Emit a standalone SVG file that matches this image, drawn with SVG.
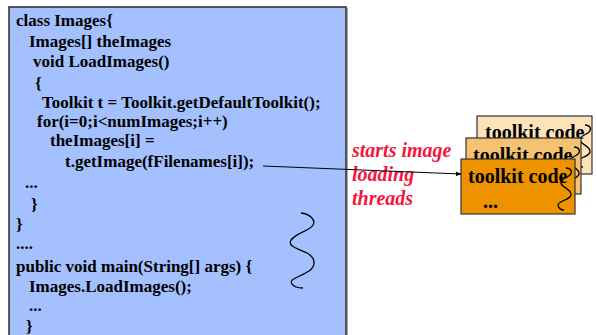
<svg xmlns="http://www.w3.org/2000/svg" xmlns:xlink="http://www.w3.org/1999/xlink" width="597" height="335" viewBox="0 0 597 335">
  <style>
    .code { font-family: "Liberation Serif", "Times New Roman", serif; font-weight: bold; font-size: 17px; fill: #000; }
    .tk { font-family: "Liberation Serif", "Times New Roman", serif; font-weight: bold; font-size: 20px; fill: #000; }
    .note { font-family: "Liberation Serif", "Times New Roman", serif; font-weight: bold; font-style: italic; font-size: 20px; fill: #F5153E; }
    .squig { fill: none; stroke: #000; stroke-width: 1.3; }
    .box { stroke: #333; stroke-width: 1.2; }
  </style>
  <defs>
    <marker id="arr" viewBox="0 0 10 10" refX="9" refY="5" markerWidth="6" markerHeight="6" orient="auto" markerUnits="userSpaceOnUse">
      <path d="M0,1 L10,5 L0,9 z" fill="#000"/>
    </marker>
    <path id="sq" class="squig" d="M 9 0 C 14 0, 16 4, 13 7 C 10 10, 3 11, 4 15 C 5 20, 15 21, 14 27 C 13 32, 1 33, 1 37 C 1 40, 4 42, 7 42"/>
  </defs>
  <rect width="597" height="335" fill="#fff"/>

  <g id="code-box">
    <rect x="9" y="7" width="337" height="335" fill="#A4C0FF" stroke="#2a2a2a" stroke-width="1.5"/>
    <line x1="346.5" y1="8" x2="346.5" y2="335" stroke="#555" stroke-width="2"/>
    <text class="code" x="16" y="26">class Images{</text>
    <text class="code" x="29" y="47">Images[] theImages</text>
    <text class="code" x="33" y="67">void LoadImages()</text>
    <text class="code" x="35" y="89">{</text>
    <text class="code" x="42" y="108">Toolkit t = Toolkit.getDefaultToolkit();</text>
    <text class="code" x="37" y="127">for(i=0;i&lt;numImages;i++)</text>
    <text class="code" x="50" y="146">theImages[i] =</text>
    <text class="code" x="65" y="167">t.getImage(fFilenames[i]);</text>
    <text class="code" x="25" y="188">...</text>
    <text class="code" x="31" y="210">}</text>
    <text class="code" x="16" y="230">}</text>
    <text class="code" x="16" y="249">....</text>
    <text class="code" x="16" y="272">public void main(String[] args) {</text>
    <text class="code" x="29" y="292">Images.LoadImages();</text>
    <text class="code" x="29" y="311">...</text>
    <text class="code" x="26" y="332">}</text>
    <path class="squig" d="M301,213 C310,214 316,220 313,225 C310,231 297,232 291,240 C287,247 300,249 307,253 C316,258 316,266 309,271 C300,277 288,279 292,284 C294,287 298,288 303,288"/>
  </g>

  <g id="note">
    <text class="note" x="352" y="157">starts image</text>
    <text class="note" x="352" y="181">loading</text>
    <text class="note" x="352" y="205">threads</text>
  </g>

  <g id="toolkit-back">
    <rect class="box" x="477" y="116" width="115" height="58" fill="#FDE3B9"/>
    <text class="tk" x="485" y="139">toolkit code</text>
    <use xlink:href="#sq" x="576" y="125"/>
  </g>
  <g id="toolkit-middle">
    <rect class="box" x="466" y="138" width="115" height="56" fill="#F5C172"/>
    <text class="tk" x="473" y="162">toolkit code</text>
    <use xlink:href="#sq" x="565" y="147"/>
  </g>
  <g id="toolkit-front">
    <rect class="box" x="461" y="159" width="114" height="55" fill="#EE9200"/>
    <text class="tk" x="468" y="183">toolkit code</text>
    <text class="tk" x="483" y="208">...</text>
    <use xlink:href="#sq" x="557" y="168"/>
  </g>

  <g id="connectors">
    <line x1="263" y1="166" x2="461" y2="174" stroke="#000" stroke-width="1" marker-end="url(#arr)"/>
  </g>
</svg>
